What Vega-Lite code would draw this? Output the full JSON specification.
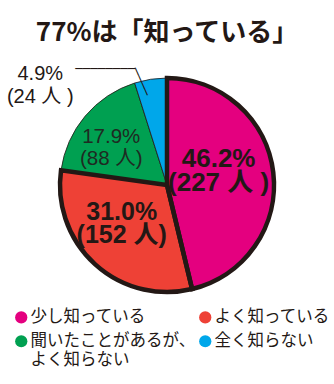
{
  "$schema": "https://vega.github.io/schema/vega-lite/v6.json",
  "width": 334,
  "height": 260,
  "autosize": {"type": "none"},
  "padding": {"left": 0, "top": 55, "right": 0, "bottom": 69},
  "background": "white",
  "title": {
    "text": "77%は「知っている」",
    "font": "Noto Sans CJK JP",
    "fontSize": 26,
    "fontWeight": "bold",
    "color": "#231815",
    "anchor": "middle",
    "baseline": "bottom",
    "offset": -17,
    "frame": "group"
  },
  "data": {
    "values": [
      {"cat": "少し知っている", "n": 227, "rank": 1, "label": "46.2%\n(227 人 )"},
      {"cat": "よく知っている", "n": 152, "rank": 2, "label": "31.0%\n(152 人)"},
      {"cat": "聞いたことがあるが、よく知らない", "n": 88, "rank": 3, "label": "17.9%\n(88 人)"},
      {"cat": "全く知らない", "n": 24, "rank": 4, "label": "4.9%\n(24 人 )"}
    ]
  },
  "encoding": {
    "theta": {"field": "n", "type": "quantitative", "stack": true},
    "order": {"field": "rank", "type": "quantitative"}
  },
  "layer": [
    {
      "mark": {"type": "arc", "radius": 107, "stroke": "#231815", "strokeWidth": 0.8},
      "encoding": {
        "color": {
          "field": "cat",
          "type": "nominal",
          "scale": {
            "domain": ["少し知っている", "よく知っている", "聞いたことがあるが、よく知らない", "全く知らない"],
            "range": ["#E4007F", "#EE4136", "#00A051", "#00A7EA"]
          },
          "legend": {
            "orient": "none",
            "legendX": 13,
            "legendY": 254,
            "direction": "horizontal",
            "columns": 2,
            "title": null,
            "symbolType": "circle",
            "symbolSize": 150,
            "symbolStrokeWidth": 0,
            "symbolStrokeColor": "transparent",
            "symbolOpacity": 1,
            "labelFont": "Noto Sans CJK JP",
            "labelFontSize": 16.5,
            "labelColor": "#231815",
            "labelLimit": 400,
            "labelOffset": 1,
            "columnPadding": 1,
            "rowPadding": 7,
            "labelExpr": "datum.label == '聞いたことがあるが、よく知らない' ? ['聞いたことがあるが、', 'よく知らない'] : datum.label"
          }
        }
      }
    },
    {
      "mark": {"type": "arc", "radius": 107, "fill": "transparent", "stroke": "#231815"},
      "encoding": {
        "detail": {"field": "cat"},
        "strokeWidth": {"condition": {"test": "datum.rank <= 2", "value": 4.5}, "value": 0}
      }
    },
    {
      "mark": {"type": "text", "radius": 55, "dx": -3, "dy": -20, "font": "Liberation Sans, Noto Sans CJK JP, sans-serif", "fontSize": 26, "fontWeight": "bold", "fill": "#231815", "lineBreak": "\n", "lineHeight": 24, "align": "center", "baseline": "middle"},
      "encoding": {
        "detail": {"field": "cat"},
        "text": {"condition": {"test": "datum.rank === 1", "field": "label"}, "value": ""}
      }
    },
    {
      "mark": {"type": "text", "radius": 57, "dx": -7, "dy": -15, "font": "Liberation Sans, Noto Sans CJK JP, sans-serif", "fontSize": 25, "fontWeight": "bold", "fill": "#231815", "lineBreak": "\n", "lineHeight": 23, "align": "center", "baseline": "middle"},
      "encoding": {
        "detail": {"field": "cat"},
        "text": {"condition": {"test": "datum.rank === 2", "field": "label"}, "value": ""}
      }
    },
    {
      "mark": {"type": "text", "radius": 69, "dx": -3, "dy": -4, "font": "Liberation Sans, Noto Sans CJK JP, sans-serif", "fontSize": 20.5, "fill": "#1f2a22", "lineBreak": "\n", "lineHeight": 22, "align": "center", "baseline": "middle"},
      "encoding": {
        "detail": {"field": "cat"},
        "text": {"condition": {"test": "datum.rank === 3", "field": "label"}, "value": ""}
      }
    },
    {
      "mark": {"type": "text", "radius": 103, "dx": -111, "dy": -9, "font": "Liberation Sans, Noto Sans CJK JP, sans-serif", "fontSize": 20, "fill": "#231815", "lineBreak": "\n", "lineHeight": 22.5, "align": "center", "baseline": "middle"},
      "encoding": {
        "detail": {"field": "cat"},
        "text": {"condition": {"test": "datum.rank === 4", "field": "label"}, "value": ""}
      }
    },
    {
      "mark": {"type": "text", "radius": 103, "dx": -46, "dy": -14, "font": "DejaVu Sans Mono", "fontSize": 12.5, "fill": "#231815", "align": "center", "baseline": "middle"},
      "encoding": {
        "detail": {"field": "cat"},
        "text": {"condition": {"test": "datum.rank === 4", "value": "────────"}, "value": ""}
      }
    },
    {
      "mark": {"type": "text", "radius": 103, "angle": 66, "dx": -5.7, "dy": 8.6, "font": "DejaVu Sans Mono", "fontSize": 12.5, "fill": "#231815", "align": "center", "baseline": "middle"},
      "encoding": {
        "detail": {"field": "cat"},
        "text": {"condition": {"test": "datum.rank === 4", "value": "────"}, "value": ""}
      }
    }
  ],
  "config": {"view": {"stroke": null}}
}
